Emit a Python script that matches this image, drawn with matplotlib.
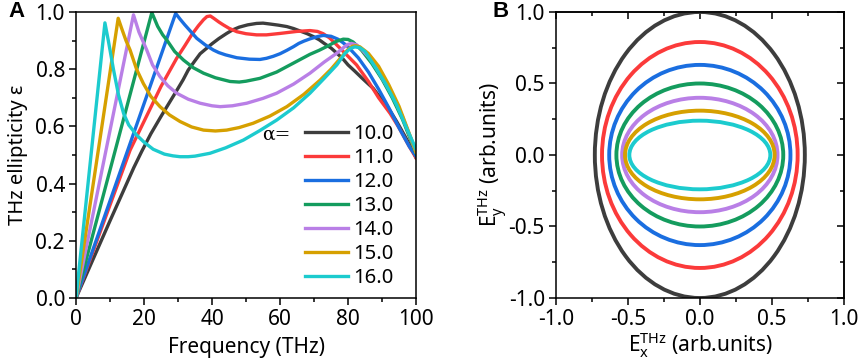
"""
THz ellipticity vs frequency (A) and polarisation ellipses (B)
"""
import matplotlib
matplotlib.use("Agg")
import matplotlib.pyplot as plt
from matplotlib.patches import Ellipse
from matplotlib.ticker import MultipleLocator

plt.rcParams['font.family'] = ['Noto Sans', 'DejaVu Sans']
plt.rcParams['axes.unicode_minus'] = False
plt.rcParams['mathtext.fontset'] = 'custom'
plt.rcParams['mathtext.rm'] = 'Noto Sans'
plt.rcParams['mathtext.it'] = 'Noto Sans'

# legend labels (alpha values) and colours
alphas = ['10.0', '11.0', '12.0', '13.0', '14.0', '15.0', '16.0']
colors = ['#3d3d3d', '#fb3a3a', '#1a6ee0', '#149c5e', '#b97fe6', '#d6a000', '#1ccbce']

# panel A: frequency (THz) and ellipticity
f_10 = [0, 10, 17, 19.3, 22, 25, 27.5, 29.6, 31.5, 33, 35, 36.5, 38.5, 40, 42, 44.3, 46, 48, 50.5, 53.1, 55, 57, 59.5, 62, 64, 66, 68, 69.8, 71.5,
        73, 75, 76.7, 78.5, 80, 82, 84, 86, 87.4, 89, 91, 92.5, 94.3, 95.5, 97, 98.5, 100]
e_10 = [0, 0.27, 0.456, 0.512, 0.574, 0.635, 0.684, 0.725, 0.763, 0.797, 0.830, 0.854, 0.874, 0.889, 0.907, 0.925, 0.937, 0.947, 0.955, 0.960, 0.961, 0.958, 0.954, 0.949, 0.942, 0.933, 0.924, 0.914, 0.903,
        0.89, 0.874, 0.856, 0.836, 0.815, 0.793, 0.77, 0.748, 0.733, 0.708, 0.68, 0.652, 0.617, 0.592, 0.56, 0.527, 0.49]

f_11 = [0, 15.9, 25, 29.6, 32, 34, 36, 37.5, 38.5, 39.5, 40.5, 42, 43.3, 45, 47.3, 50, 53.1, 56, 60, 64.9, 68.8, 71, 72.7, 74.5, 76, 79, 82.5, 86, 89, 92.4, 95, 98, 100]
e_11 = [0, 0.517, 0.74, 0.838, 0.882, 0.92, 0.952, 0.973, 0.984, 0.986, 0.978, 0.965, 0.955, 0.943, 0.931, 0.924, 0.920, 0.920, 0.925, 0.932, 0.935, 0.932, 0.924, 0.91, 0.893, 0.857, 0.815, 0.757, 0.70, 0.645, 0.595, 0.53, 0.49]

f_12 = [0, 29.3, 30.6, 32, 33.5, 35.5, 38, 40.4, 42, 44, 47.3, 51, 54.1, 56, 58, 60, 62, 64, 65.5, 67, 68.8, 71, 72.7, 75, 77, 78.5, 80, 83, 86, 89, 92, 95, 98, 100]
e_12 = [0, 0.995, 0.975, 0.955, 0.935, 0.908, 0.885, 0.867, 0.858, 0.85, 0.84, 0.835, 0.834, 0.838, 0.845, 0.854, 0.866, 0.879, 0.89, 0.898, 0.906, 0.914, 0.918, 0.915, 0.905, 0.893, 0.878, 0.84, 0.79, 0.73, 0.665, 0.595, 0.53, 0.495]

f_13 = [0, 22.3, 24, 25.5, 26.7, 29, 31.6, 34.5, 37.5, 41, 45.3, 48, 50, 54.1, 59, 63.9, 68.8, 71.5, 73.7, 76.5, 78.6, 80, 81.5, 84, 87, 90, 93, 96, 100]
e_13 = [0, 0.998, 0.95, 0.92, 0.902, 0.862, 0.832, 0.805, 0.786, 0.77, 0.757, 0.755, 0.758, 0.768, 0.79, 0.821, 0.852, 0.866, 0.879, 0.897, 0.905, 0.904, 0.895, 0.866, 0.82, 0.765, 0.70, 0.625, 0.505]

f_14 = [0, 16.9, 18.5, 20.8, 22.5, 24.7, 27, 29.6, 33, 36.5, 40, 42.4, 46, 50.2, 55, 59, 64, 68.8, 73, 76.7, 78.5, 79.8, 81, 82.5, 84, 87, 90, 93, 96, 100]
e_14 = [0, 0.99, 0.93, 0.867, 0.815, 0.774, 0.742, 0.716, 0.695, 0.681, 0.672, 0.669, 0.672, 0.681, 0.698, 0.716, 0.748, 0.786, 0.825, 0.856, 0.874, 0.886, 0.89, 0.885, 0.87, 0.83, 0.77, 0.71, 0.635, 0.51]

f_15 = [0, 12.4, 13.5, 14.7, 15.9, 17.8, 19.8, 22, 24.7, 27.5, 30.6, 34, 37.5, 41, 44.3, 48, 52.1, 57, 62, 67, 71.8, 75, 78.6, 80, 81.2, 82.3, 83.5, 86, 89, 92, 95, 98, 100]
e_15 = [0, 0.978, 0.94, 0.90, 0.867, 0.80, 0.75, 0.705, 0.669, 0.64, 0.617, 0.598, 0.587, 0.584, 0.587, 0.596, 0.611, 0.636, 0.669, 0.712, 0.762, 0.80, 0.85, 0.869, 0.88, 0.882, 0.878, 0.855, 0.81, 0.745, 0.67, 0.575, 0.51]

f_16 = [0, 8.5, 9.5, 11, 12.5, 14, 15.5, 17.8, 20, 22.7, 26, 28.5, 30.6, 33, 35, 39.4, 44, 49.2, 54, 59, 64, 68.8, 73, 76.7, 79, 80.6, 82, 83.5, 85, 88.4, 91, 94.3, 97, 100]
e_16 = [0, 0.962, 0.90, 0.80, 0.71, 0.645, 0.605, 0.57, 0.545, 0.52, 0.503, 0.497, 0.494, 0.494, 0.496, 0.506, 0.525, 0.552, 0.585, 0.622, 0.665, 0.716, 0.768, 0.815, 0.854, 0.872, 0.878, 0.875, 0.862, 0.80, 0.75, 0.675, 0.60, 0.52]

freqs = [f_10, f_11, f_12, f_13, f_14, f_15, f_16]
ellip = [e_10, e_11, e_12, e_13, e_14, e_15, e_16]

# panel B: semi-axes of the polarisation ellipses
semi_x = [0.73, 0.68, 0.63, 0.58, 0.54, 0.52, 0.49]
semi_y = [1.00, 0.79, 0.63, 0.50, 0.40, 0.31, 0.24]

fig = plt.figure(figsize=(8.58, 3.62), dpi=100)
ax1 = fig.add_axes([0.0886, 0.1768, 0.3963, 0.7901])
ax2 = fig.add_axes([0.648, 0.1768, 0.3353, 0.7901])

# ---- panel A ----
lines = []
for f, e, c in zip(freqs, ellip, colors):
    ln, = ax1.plot(f, e, color=c, lw=2.4, solid_joinstyle='round')
    lines.append(ln)
ax1.set_xlim(0, 100)
ax1.set_ylim(0, 1.0)
ax1.xaxis.set_major_locator(MultipleLocator(20))
ax1.xaxis.set_minor_locator(MultipleLocator(10))
ax1.yaxis.set_major_locator(MultipleLocator(0.2))
ax1.yaxis.set_minor_locator(MultipleLocator(0.1))
ax1.yaxis.set_major_formatter(plt.FormatStrFormatter('%.1f'))
ax1.set_xlabel('Frequency (THz)', fontsize=15, labelpad=5)
ax1.set_ylabel('THz ellipticity ε', fontsize=14.5, labelpad=5)
leg = ax1.legend(lines, alphas, loc='upper left', bbox_to_anchor=(0.645, 0.645),
                 frameon=False, fontsize=14.5, handlelength=2.1, handletextpad=0.25,
                 labelspacing=0.2, borderpad=0)
ax1.text(0.59, 0.573, 'α=', transform=ax1.transAxes, fontsize=13.5,
         ha='center', va='center', family=['DejaVu Serif'])
ax1.text(-0.2, 1.0, 'A', transform=ax1.transAxes, fontsize=16,
         fontweight='bold', ha='left', va='center', family=['Liberation Sans'])

# ---- panel B ----
for a, b, c in zip(semi_x, semi_y, colors):
    ax2.add_patch(Ellipse((0, 0), 2 * a, 2 * b, fill=False, ec=c, lw=2.8))
ax2.set_xlim(-1, 1)
ax2.set_ylim(-1, 1)
for axis in (ax2.xaxis, ax2.yaxis):
    axis.set_major_locator(MultipleLocator(0.5))
    axis.set_minor_locator(MultipleLocator(0.25))
    axis.set_major_formatter(plt.FormatStrFormatter('%.1f'))
ax2.set_xlabel('E$_\\mathrm{x}^\\mathrm{THz}$ (arb.units)', fontsize=15, labelpad=0)
ax2.set_ylabel('E$_\\mathrm{y}^\\mathrm{THz}$ (arb.units)', fontsize=15, labelpad=-1)
ax2.text(-0.22, 1.0, 'B', transform=ax2.transAxes, fontsize=16,
         fontweight='bold', ha='left', va='center', family=['Liberation Sans'])

# mirror ticks pointing inwards on top/right of panel B
top = ax2.secondary_xaxis('top')
right = ax2.secondary_yaxis('right')
top.xaxis.set_major_locator(MultipleLocator(0.5))
top.xaxis.set_minor_locator(MultipleLocator(0.25))
right.yaxis.set_major_locator(MultipleLocator(0.5))
right.yaxis.set_minor_locator(MultipleLocator(0.25))
top.tick_params(which='both', direction='in', labeltop=False, width=1.1)
top.tick_params(which='major', length=5)
top.tick_params(which='minor', length=3)
right.tick_params(which='both', direction='in', labelright=False, width=1.1)
right.tick_params(which='major', length=5)
right.tick_params(which='minor', length=3)
for sec in (top, right):
    for s in sec.spines.values():
        s.set_linewidth(1.1)

for ax in (ax1, ax2):
    ax.tick_params(which='both', direction='out', labelsize=15, width=1.1, pad=3)
    ax.tick_params(which='major', length=5)
    ax.tick_params(which='minor', length=3)
    for s in ax.spines.values():
        s.set_linewidth(1.1)

fig.savefig('out.png', dpi=100)
